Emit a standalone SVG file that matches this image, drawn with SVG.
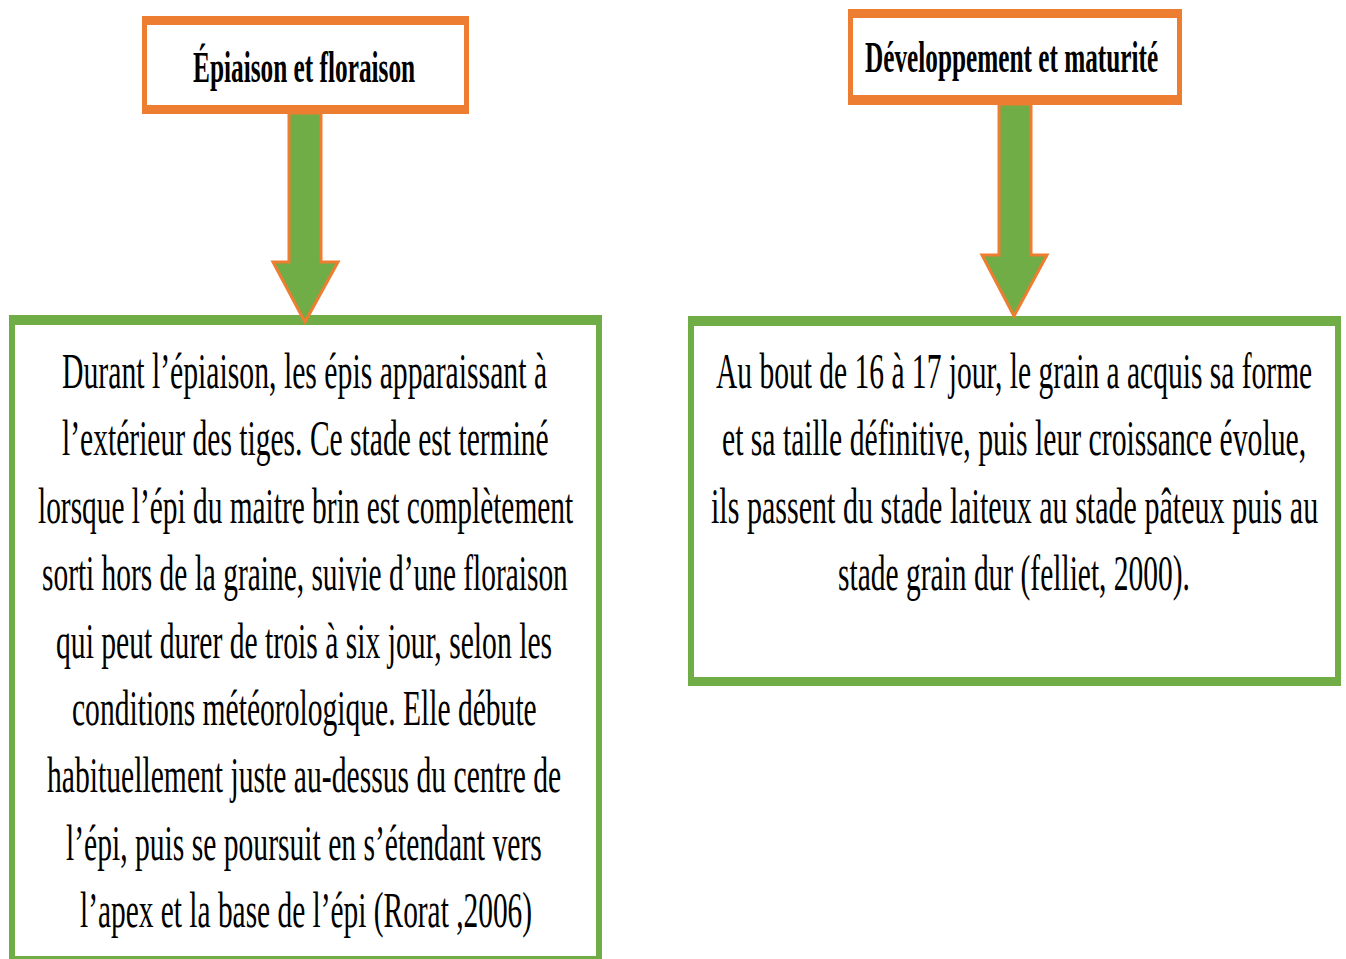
<svg xmlns="http://www.w3.org/2000/svg" width="1346" height="959" viewBox="0 0 1346 959">
<style>
.bg{fill:#ffffff}
.orange{fill:#ED7D31}
.green{fill:#70AD47}
.inner{fill:#ffffff}
.arrow{fill:#70AD47;stroke:#ED7D31;stroke-width:3;stroke-linejoin:miter}
.title{font-family:"Liberation Serif","Times New Roman",serif;font-weight:bold;font-size:44px;fill:#000}
.body{font-family:"Liberation Serif","Times New Roman",serif;font-size:50px;fill:#000}
</style>
<rect class="bg" x="0" y="0" width="1346" height="959"/>

<g id="node-epiaison">
<rect class="orange" x="142" y="16" width="327" height="98"/>
<rect class="inner" x="147" y="25" width="317" height="80"/>
<text class="title" transform="translate(193,82) scale(0.55,1)" x="0" y="0" textLength="404" lengthAdjust="spacingAndGlyphs">Épiaison et floraison</text>
</g>

<g id="node-developpement">
<rect class="orange" x="848" y="9" width="334" height="96"/>
<rect class="inner" x="853" y="18" width="324" height="77"/>
<text class="title" transform="translate(865,72) scale(0.55,1)" x="0" y="0" textLength="533" lengthAdjust="spacingAndGlyphs">Développement et maturité</text>
</g>

<g id="node-epiaison-desc">
<rect class="green" x="9" y="315" width="593" height="650"/>
<rect class="inner" x="15" y="325" width="581" height="631"/>
<text class="body" transform="translate(62,388) scale(0.55,1)" x="0" y="0" textLength="882" lengthAdjust="spacingAndGlyphs">Durant l’épiaison, les épis apparaissant à</text>
<text class="body" transform="translate(62,455) scale(0.55,1)" x="0" y="0" textLength="885" lengthAdjust="spacingAndGlyphs">l’extérieur des tiges. Ce stade est terminé</text>
<text class="body" transform="translate(38,523) scale(0.55,1)" x="0" y="0" textLength="973" lengthAdjust="spacingAndGlyphs">lorsque l’épi du maitre brin est complètement</text>
<text class="body" transform="translate(42,590) scale(0.55,1)" x="0" y="0" textLength="956" lengthAdjust="spacingAndGlyphs">sorti hors de la graine, suivie d’une floraison</text>
<text class="body" transform="translate(56,658) scale(0.55,1)" x="0" y="0" textLength="902" lengthAdjust="spacingAndGlyphs">qui peut durer de trois à six jour, selon les</text>
<text class="body" transform="translate(72,725) scale(0.55,1)" x="0" y="0" textLength="845" lengthAdjust="spacingAndGlyphs">conditions météorologique. Elle débute</text>
<text class="body" transform="translate(47,792) scale(0.55,1)" x="0" y="0" textLength="935" lengthAdjust="spacingAndGlyphs">habituellement juste au-dessus du centre de</text>
<text class="body" transform="translate(66,860) scale(0.55,1)" x="0" y="0" textLength="865" lengthAdjust="spacingAndGlyphs">l’épi, puis se poursuit en s’étendant vers</text>
<text class="body" transform="translate(80,927) scale(0.55,1)" x="0" y="0" textLength="822" lengthAdjust="spacingAndGlyphs">l’apex et la base de l’épi (Rorat ,2006)</text>
</g>

<g id="node-developpement-desc">
<rect class="green" x="688" y="316" width="653" height="370"/>
<rect class="inner" x="694" y="326" width="641" height="351"/>
<text class="body" transform="translate(716,388) scale(0.55,1)" x="0" y="0" textLength="1084" lengthAdjust="spacingAndGlyphs">Au bout de 16 à 17 jour, le grain a acquis sa forme</text>
<text class="body" transform="translate(722,455) scale(0.55,1)" x="0" y="0" textLength="1062" lengthAdjust="spacingAndGlyphs">et sa taille définitive, puis leur croissance évolue,</text>
<text class="body" transform="translate(711,523) scale(0.55,1)" x="0" y="0" textLength="1104" lengthAdjust="spacingAndGlyphs">ils passent du stade laiteux au stade pâteux puis au</text>
<text class="body" transform="translate(838,590) scale(0.55,1)" x="0" y="0" textLength="640" lengthAdjust="spacingAndGlyphs">stade grain dur (felliet, 2000).</text>
</g>

<g id="connectors">
<polygon class="arrow" points="289,113 321,113 321,262 338,262 305,322 273,262 289,262"/>
<polygon class="arrow" points="999,104 1031,104 1031,255 1047,255 1014,316 982,255 999,255"/>
</g>
</svg>
